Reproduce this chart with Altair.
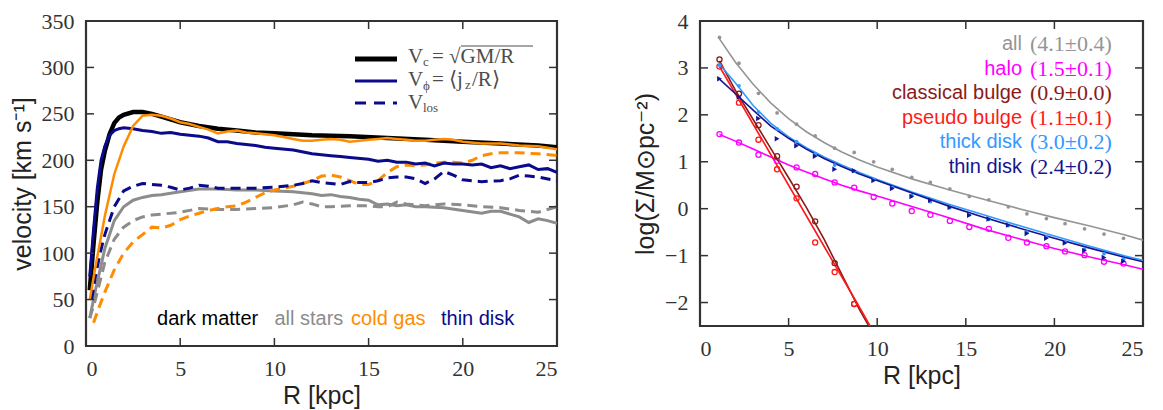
import altair as alt
import pandas as pd

# ---------------- left panel: rotation curves ----------------
vc_R = [0.2, 0.4, 0.6, 0.8, 1.0, 1.25, 1.5, 1.75, 2.0, 2.5, 3.0, 3.5, 4, 5, 6, 7, 8, 9, 10, 12, 14, 16, 18, 20, 22, 24, 25]
vc_V = [60, 110, 155, 190, 210, 228, 240, 246, 249, 252, 252, 250, 247, 241, 237, 234, 232, 230, 229, 227, 226, 224, 222, 220, 218, 216, 214]

thin_phi_R = [0.2, 0.4, 0.6, 0.8, 1.0, 1.25, 1.5, 1.75, 2, 2.5, 3, 3.5, 4, 4.5, 5, 5.5, 6, 6.5, 7, 7.5, 8, 8.5, 9, 9.5, 10, 11, 12, 13, 13.5, 14, 15, 15.5, 16, 16.5, 17, 17.5, 18, 18.5, 19, 19.5, 20, 20.5, 21, 21.5, 22, 22.5, 23, 23.5, 24, 24.5, 25]
thin_phi_V = [75, 125, 170, 200, 215, 227, 232, 234, 235, 234, 232, 231, 229, 230, 228, 227, 226, 224, 220, 220, 218, 217, 216, 214, 213, 211, 207, 205, 204, 203, 201, 199, 200, 198, 198, 196, 197, 194, 197, 196, 196, 195, 196, 192, 194, 191, 193, 195, 190, 191, 187]

gas_phi_R = [0.2, 0.5, 1, 1.5, 2, 2.5, 3, 3.5, 4, 4.5, 5, 5.5, 6, 6.5, 7, 7.5, 8, 8.5, 9, 9.5, 10, 10.5, 11, 11.5, 12, 12.5, 13, 13.5, 14, 14.5, 15, 15.5, 16, 16.5, 17, 17.5, 18, 18.5, 19, 19.5, 20, 21, 22, 23, 24, 25]
gas_phi_V = [50, 85, 140, 185, 215, 237, 248, 249, 248, 245, 241, 239, 236, 233, 229, 231, 232, 230, 229, 228, 227, 225, 223, 221, 221, 222, 223, 222, 220, 221, 222, 223, 224, 223, 222, 221, 221, 222, 223, 222, 220, 218, 218, 216, 215, 212]

gas_los_R = [0.4, 0.7, 1, 1.5, 2, 2.5, 3, 3.5, 4, 4.5, 5, 5.5, 6, 6.5, 7, 7.5, 8, 8.5, 9, 9.5, 10, 10.5, 11, 11.5, 12, 12.5, 13, 13.5, 14, 14.5, 15, 15.5, 16, 16.5, 17, 17.5, 18, 18.5, 19, 19.5, 20, 20.5, 21, 21.5, 22, 23, 24, 25]
gas_los_V = [25, 42, 58, 82, 100, 112, 120, 128, 127, 130, 136, 140, 143, 146, 148, 150, 151, 155, 160, 165, 168, 170, 172, 175, 178, 183, 184, 182, 178, 174, 174, 178, 187, 193, 195, 194, 195, 197, 198, 198, 197, 200, 205, 207, 208, 208, 207, 205]

stars_phi_R = [0.2, 0.5, 1, 1.5, 2, 2.5, 3, 3.5, 4, 5, 6, 7, 8, 9, 10, 11, 12, 12.5, 13, 13.5, 14, 14.5, 15, 15.5, 16, 16.5, 17, 17.5, 18, 19, 20, 21, 21.5, 22, 22.5, 23, 23.5, 24, 24.5, 25]
stars_phi_V = [30, 60, 105, 135, 150, 157, 160, 162, 163, 166, 169, 169, 168, 168, 167, 166, 164, 162, 163, 161, 160, 158, 157, 152, 153, 151, 152, 150, 150, 149, 146, 143, 145, 145, 142, 139, 133, 137, 135, 132]

stars_los_R = [0.2, 0.5, 1, 1.5, 2, 2.5, 3, 3.5, 4, 5, 6, 7, 8, 9, 10, 11, 11.5, 12, 12.5, 13, 14, 15, 15.5, 16, 16.5, 17, 18, 19, 20, 21, 22, 23, 24, 25]
stars_los_V = [30, 50, 90, 115, 128, 135, 139, 141, 142, 144, 148, 147, 147, 148, 149, 152, 155, 153, 150, 150, 151, 151, 150, 150, 155, 153, 151, 153, 152, 150, 149, 146, 144, 150]

thin_los_R = [0.3, 0.5, 0.75, 1, 1.25, 1.5, 2, 2.5, 3, 3.5, 4, 4.5, 5, 5.5, 6, 6.5, 7, 7.5, 8, 9, 10, 10.5, 11, 11.5, 12, 12.5, 13, 13.5, 14, 14.5, 15, 15.5, 16, 16.5, 17, 17.5, 18, 18.5, 19, 19.5, 20, 21, 22, 22.5, 23, 23.5, 24, 25]
thin_los_V = [50, 75, 100, 120, 135, 150, 167, 172, 175, 174, 173, 171, 168, 170, 173, 172, 170, 170, 170, 170, 171, 172, 173, 175, 178, 176, 175, 174, 177, 176, 176, 178, 181, 182, 182, 180, 175, 180, 188, 184, 179, 177, 178, 180, 184, 183, 182, 178]

left_xticks = [0, 5, 10, 15, 20, 25]
left_yticks = [0, 50, 100, 150, 200, 250, 300, 350]
component_names = ["dark matter", "all stars", "cold gas", "thin disk"]

# ---------------- right panel: surface density profiles ----------------
pts_R = [1.1, 2.2, 3.3, 4.35, 5.45, 6.5, 7.6, 8.7, 9.8, 10.85, 11.95, 13.0, 14.1, 15.2, 16.3, 17.4, 18.45, 19.55, 20.6, 21.7, 22.8, 23.9]
all_pts = [3.65, 3.10, 2.46, 2.04, 1.80, 1.55, 1.29, 1.20, 1.00, 0.84, 0.67, 0.56, 0.42, 0.26, 0.19, 0.04, -0.11, -0.21, -0.32, -0.43, -0.54, -0.63]
halo_pts = [1.59, 1.41, 1.15, 1.02, 0.88, 0.74, 0.56, 0.45, 0.25, 0.11, -0.05, -0.13, -0.26, -0.39, -0.43, -0.62, -0.72, -0.80, -0.91, -0.99, -1.13, -1.17]
thick_pts = [3.06, 2.62, 2.06, 1.70, 1.43, 1.17, 0.93, 0.80, 0.62, 0.45, 0.28, 0.15, 0.02, -0.13, -0.23, -0.36, -0.50, -0.60, -0.71, -0.86, -0.96, -1.08]
thin_pts = [2.77, 2.38, 1.92, 1.49, 1.34, 1.12, 0.84, 0.81, 0.60, 0.43, 0.26, 0.18, 0.03, -0.14, -0.22, -0.35, -0.53, -0.63, -0.73, -0.89, -1.04, -1.12]
bulge_R = [1.1, 2.2, 3.3, 4.35, 5.45, 6.5, 7.6, 8.7]
cbulge_pts = [3.18, 2.45, 1.78, 1.12, 0.47, -0.27, -1.16, -2.03]
pbulge_pts = [3.03, 2.26, 1.47, 0.84, 0.22, -0.72, -1.35, -2.03]

fitR = [1.1, 2, 3, 4, 5, 6, 7, 8, 9, 10, 12, 14, 16, 18, 20, 22, 24, 25]
all_fit = [3.62, 3.12, 2.65, 2.25, 1.92, 1.64, 1.41, 1.21, 1.04, 0.89, 0.63, 0.41, 0.20, 0.00, -0.19, -0.37, -0.56, -0.67]
halo_fit = [1.58, 1.44, 1.27, 1.10, 0.93, 0.78, 0.64, 0.50, 0.38, 0.27, 0.04, -0.19, -0.43, -0.64, -0.85, -1.03, -1.20, -1.29]
thick_fit = [3.08, 2.68, 2.20, 1.82, 1.53, 1.30, 1.10, 0.93, 0.77, 0.62, 0.35, 0.10, -0.13, -0.36, -0.58, -0.80, -1.01, -1.10]
thin_fit = [2.76, 2.45, 2.10, 1.76, 1.50, 1.27, 1.07, 0.90, 0.74, 0.60, 0.33, 0.06, -0.18, -0.41, -0.63, -0.84, -1.04, -1.13]
bfitR = [1.1, 2, 3, 4, 5, 6, 7, 8, 9, 9.6]
cbulge_fit = [3.15, 2.52, 1.90, 1.28, 0.66, 0.03, -0.65, -1.40, -2.15, -2.55]
pbulge_fit = [3.03, 2.45, 1.80, 1.15, 0.50, -0.15, -0.80, -1.45, -2.10, -2.50]

right_xticks = [0, 5, 10, 15, 20, 25]
right_yticks = [-2, -1, 0, 1, 2, 3, 4]
comp_labels = ["all", "halo", "classical bulge", "pseudo bulge", "thick disk", "thin disk"]
comp_values = ["(4.1±0.4)", "(1.5±0.1)", "(0.9±0.0)", "(1.1±0.1)", "(3.0±0.2)", "(2.4±0.2)"]

# ---------------- styles ----------------
SERIF = "Liberation Serif"
SANS = "Liberation Sans"
FRAME = "#333333"
BLACK = "#000000"
NAVY = "#0a0a8a"
ORANGE = "#ff8c00"
GRAY = "#8c8c8c"
C_ALL = "#959595"
C_HALO = "#ff00ff"
C_CB = "#8b1a1a"
C_PB = "#ff1a1a"
C_THICK = "#3399ff"
C_THIN = "#151590"
comp_colors = [C_ALL, C_HALO, C_CB, C_PB, C_THICK, C_THIN]

LW, LH = 471, 325
RW, RH = 443, 305

lx = alt.Scale(domain=[0, 25], nice=False, zero=False)
ly = alt.Scale(domain=[0, 350], nice=False)
rx = alt.Scale(domain=[0, 25], nice=False, zero=False)
ry = alt.Scale(domain=[-2.5, 4], nice=False, zero=False)

lxax = alt.Axis(values=left_xticks, title="R [kpc]", titlePadding=4)
lyax = alt.Axis(values=left_yticks, title="velocity [km s⁻¹]", titlePadding=6)
rxax = alt.Axis(values=right_xticks, title="R [kpc]", titlePadding=4)
ryax = alt.Axis(values=right_yticks, title="log(Σ/M⊙pc⁻²)", titlePadding=6, format="d")


def lline(R, V, color, width, dash=None):
    kw = dict(color=color, strokeWidth=width, clip=True)
    if dash:
        kw["strokeDash"] = dash
    df = pd.DataFrame({"R": R, "V": V})
    return alt.Chart(df).mark_line(**kw).encode(
        x=alt.X("R:Q", scale=lx, axis=lxax), y=alt.Y("V:Q", scale=ly, axis=lyax))


def rline(R, V, color, width=1.6):
    df = pd.DataFrame({"R": R, "V": V})
    return alt.Chart(df).mark_line(color=color, strokeWidth=width, clip=True).encode(
        x=alt.X("R:Q", scale=rx, axis=rxax), y=alt.Y("V:Q", scale=ry, axis=ryax))


def rpts(R, V, color, shape="circle", size=16, filled=True):
    df = pd.DataFrame({"R": R, "V": V})
    if filled:
        mk = alt.Chart(df).mark_point(shape=shape, size=size, filled=True, color=color, opacity=1, clip=True)
    else:
        mk = alt.Chart(df).mark_point(shape=shape, size=size, filled=False, stroke=color, strokeWidth=1.3, opacity=1, clip=True)
    return mk.encode(x=alt.X("R:Q", scale=rx, axis=rxax), y=alt.Y("V:Q", scale=ry, axis=ryax))


def inward_ticks(xt, yt, xs, ys, xax, yax, W, H, L=8):
    dx = pd.DataFrame({"t": xt})
    dy = pd.DataFrame({"t": yt})
    base = dict(color=FRAME, strokeWidth=1.5)
    out = []
    out.append(alt.Chart(dx).mark_rule(**base).encode(x=alt.X("t:Q", scale=xs, axis=xax), y=alt.value(H - L), y2=alt.value(H)))
    out.append(alt.Chart(dx).mark_rule(**base).encode(x=alt.X("t:Q", scale=xs, axis=xax), y=alt.value(0), y2=alt.value(L)))
    out.append(alt.Chart(dy).mark_rule(**base).encode(y=alt.Y("t:Q", scale=ys, axis=yax), x=alt.value(0), x2=alt.value(L)))
    out.append(alt.Chart(dy).mark_rule(**base).encode(y=alt.Y("t:Q", scale=ys, axis=yax), x=alt.value(W - L), x2=alt.value(W)))
    return out


def ptext(txt, x, y, size, color, font=SERIF, align="left"):
    return alt.Chart(pd.DataFrame({"t": [txt]})).mark_text(
        text=txt, font=font, fontSize=size, color=color, align=align, baseline="middle"
    ).encode(x=alt.value(x), y=alt.value(y))


def prule(x1, x2, y, color, width, dash=None):
    kw = dict(color=color, strokeWidth=width)
    if dash:
        kw["strokeDash"] = dash
    return alt.Chart(pd.DataFrame({"t": [0]})).mark_rule(**kw).encode(
        x=alt.value(x1), x2=alt.value(x2), y=alt.value(y))


# ---- left layers ----
left_layers = [
    lline(stars_los_R, stars_los_V, GRAY, 3, [10, 6]),
    lline(stars_phi_R, stars_phi_V, GRAY, 3),
    lline(gas_los_R, gas_los_V, ORANGE, 3, [10, 6]),
    lline(thin_los_R, thin_los_V, NAVY, 3, [10, 6]),
    lline(vc_R, vc_V, BLACK, 4.5),
    lline(thin_phi_R, thin_phi_V, NAVY, 3),
    lline(gas_phi_R, gas_phi_V, ORANGE, 2.5),
]
left_layers += inward_ticks(left_xticks, left_yticks, lx, ly, lxax, lyax, LW, LH)

# legend (top right of left panel)
LGC = "#4d4d4d"
left_layers += [
    prule(269, 311, 38, BLACK, 5),
    prule(269, 311, 60, NAVY, 3),
    prule(269, 311, 82, NAVY, 3, [11, 8]),
    ptext("V", 322, 36, 21, LGC), ptext("c", 337, 41, 13, LGC), ptext("= √GM/R", 346, 36, 21, LGC),
    prule(375, 447, 25, LGC, 1),
    ptext("V", 322, 59, 21, LGC), ptext("ϕ", 337, 65, 13, LGC), ptext("= ⟨j", 346, 59, 21, LGC),
    ptext("z", 379, 64, 13, LGC), ptext("/R⟩", 386, 59, 21, LGC),
    ptext("V", 322, 82, 21, LGC), ptext("los", 337, 87, 13, LGC),
]

# component names (bottom of left panel)
lab_x = [3.77, 10.0, 14.07, 18.84]
lab_c = [BLACK, GRAY, ORANGE, NAVY]
for nm, xv, cc in zip(component_names, lab_x, lab_c):
    left_layers.append(
        alt.Chart(pd.DataFrame({"R": [xv], "V": [28.6], "t": [nm]})).mark_text(
            font=SANS, fontSize=20, color=cc, align="left", baseline="middle"
        ).encode(x=alt.X("R:Q", scale=lx, axis=lxax), y=alt.Y("V:Q", scale=ly, axis=lyax), text="t:N")
    )

left = alt.layer(*left_layers).properties(width=LW, height=LH)

# ---- right layers ----
right_layers = [
    rline(fitR, all_fit, C_ALL),
    rline(fitR, halo_fit, C_HALO),
    rline(bfitR, cbulge_fit, C_CB),
    rline(bfitR, pbulge_fit, C_PB),
    rline(fitR, thick_fit, C_THICK),
    rline(fitR, thin_fit, C_THIN),
    rpts(pts_R, all_pts, C_ALL, size=14),
    rpts(pts_R, halo_pts, C_HALO, size=26, filled=False),
    rpts(bulge_R, cbulge_pts, C_CB, size=26, filled=False),
    rpts(bulge_R, pbulge_pts, C_PB, size=26, filled=False),
    rpts(pts_R, thick_pts, C_THICK, size=14),
    rpts(pts_R, thin_pts, C_THIN, shape="triangle-right", size=30),
]
right_layers += inward_ticks(right_xticks, right_yticks, rx, ry, rxax, ryax, RW, RH)

row_y = [23, 47.5, 72, 96.5, 121, 145.5]
for nm, val, cc, yy in zip(comp_labels, comp_values, comp_colors, row_y):
    right_layers.append(ptext(nm, 322, yy, 20, cc, font=SANS, align="right"))
    right_layers.append(ptext(val, 330, yy, 22, cc, font=SERIF, align="left"))

right = alt.layer(*right_layers).properties(width=RW, height=RH)

chart = alt.hconcat(
    left, right, spacing=73, background="white",
    padding={"left": 0, "top": 0, "right": 0, "bottom": 0}
).configure_view(
    stroke=FRAME, strokeWidth=2.2
).configure_axis(
    domain=False, grid=False, ticks=False, labelPadding=12,
    labelFont=SERIF, labelFontSize=22, labelColor="#333333",
    titleFont=SANS, titleFontSize=25, titleFontWeight="normal", titleColor="#222222",
)

chart.save("out.html", embed_options={"renderer": "svg", "actions": False})
